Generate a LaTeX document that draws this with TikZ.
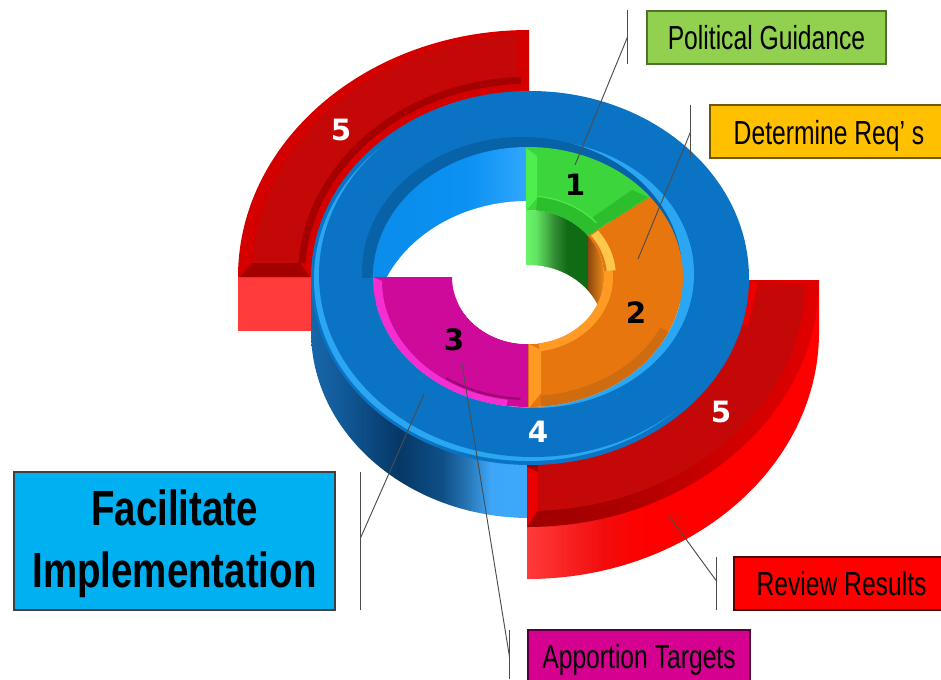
\documentclass[tikz,border=0pt]{standalone}
\usepackage{fontspec}
\setmainfont{Liberation Sans}
\newfontfamily\numfont{DejaVu Sans}
\definecolor{bluetop}{HTML}{0B73C4}
\definecolor{bluecy}{HTML}{2BA6F2}
\definecolor{bluedk}{HTML}{0862A8}
\definecolor{redface}{HTML}{C40808}
\definecolor{redbr}{HTML}{D40000}
\definecolor{reddk}{HTML}{A50000}
\definecolor{redside}{HTML}{FF3B3B}
\definecolor{grface}{HTML}{3CD63C}
\definecolor{grbev}{HTML}{2DBE2D}
\definecolor{grlit}{HTML}{4EEE4E}
\definecolor{orface}{HTML}{E8760F}
\definecolor{orlit}{HTML}{FF9A25}
\definecolor{ordk}{HTML}{CF6C10}
\definecolor{oryel}{HTML}{FFC84A}
\definecolor{mgface}{HTML}{CE0A9A}
\definecolor{mglit}{HTML}{F52ED2}
\definecolor{boxgreen}{HTML}{92D050}
\definecolor{boxorange}{HTML}{FFC000}
\definecolor{boxcyan}{HTML}{00B0F0}
\definecolor{boxmag}{HTML}{D5008F}
\pgfdeclarehorizontalshading{blueside}{100bp}{rgb(0bp)=(.09,.40,.66); rgb(25bp)=(.09,.40,.66); rgb(32bp)=(.07,.35,.60); rgb(45bp)=(.02,.22,.40); rgb(55bp)=(.06,.31,.53); rgb(61bp)=(.16,.47,.72); rgb(66bp)=(.24,.65,.97); rgb(75bp)=(.24,.66,.98); rgb(100bp)=(.24,.66,.98)}
\pgfdeclarehorizontalshading{redsidesh}{100bp}{rgb(0bp)=(1,.23,.23); rgb(25bp)=(1,.23,.23); rgb(38bp)=(.95,.05,.05); rgb(45bp)=(1,0,0); rgb(100bp)=(1,0,0)}
\pgfdeclarehorizontalshading{redband}{100bp}{rgb(0bp)=(.62,0,0); rgb(25bp)=(.62,0,0); rgb(42bp)=(.68,0,0); rgb(60bp)=(.82,0,0); rgb(75bp)=(.88,0,0); rgb(100bp)=(.88,0,0)}
\pgfdeclarehorizontalshading{bluewall}{100bp}{rgb(0bp)=(.04,.55,.92); rgb(25bp)=(.04,.55,.92); rgb(55bp)=(.04,.57,.95); rgb(75bp)=(.2,.66,1); rgb(100bp)=(.2,.66,1)}
\pgfdeclarehorizontalshading{greenwall}{100bp}{rgb(0bp)=(.42,.95,.42); rgb(25bp)=(.42,.95,.42); rgb(33bp)=(.38,.90,.38); rgb(48bp)=(.2,.55,.2); rgb(58bp)=(.06,.42,.08); rgb(100bp)=(.06,.42,.08)}
\pgfdeclarehorizontalshading{orangewall}{100bp}{rgb(0bp)=(.55,.28,.06); rgb(25bp)=(.55,.28,.06); rgb(50bp)=(.75,.42,.08); rgb(75bp)=(.96,.55,.1); rgb(100bp)=(.96,.55,.1)}
\newcommand{\EL}[4]{(#1,-#2) ellipse [x radius=#3*0.75pt, y radius=#4*0.75pt]}
\newcommand{\PT}[5]{({#1+#3*cos(#5)},{-#2+#4*sin(#5)})}
\newcommand{\ARC}[4]{arc[start angle=#1,end angle=#2,x radius=#3*0.75pt,y radius=#4*0.75pt]}
% centre x, centre y, outer rx, outer ry, inner rx, inner ry, t1, t2
\newcommand{\SEG}[8]{\PT{#1}{#2}{#3}{#4}{#7} \ARC{#7}{#8}{#3}{#4} -- \PT{#1}{#2}{#5}{#6}{#8} \ARC{#8}{#7}{#5}{#6} -- cycle}
\tikzset{
  lbl/.style={rectangle,inner sep=0pt,draw=#1,line width=0.9pt,text=black},
  lbl/.default=black!65!white,
  lead/.style={draw=black!70!white,line width=0.7pt},
  digit/.style={inner sep=0pt,font=\numfont\bfseries\fontsize{22}{24}\selectfont},
}
\newcommand{\lab}[1]{\scalebox{0.74}[1]{\fontsize{25}{28}\selectfont #1}}
\begin{document}
\begin{tikzpicture}[x=0.75pt,y=0.75pt]
\useasboundingbox (0,0) rectangle (941,-679);
\fill[white] (0,0) rectangle (941,-679);
% --- upper-left red arc
\fill[redside] (238,-277) rectangle (316,-330.5);
\fill[redbr] (529,-277) -- (238,-277) \ARC{180}{90}{291}{247} -- cycle;
\begin{scope}
  \clip (252,-263) rectangle (517,-30);
  \fill[redface] \EL{529}{277}{277}{242};
\end{scope}
\fill[reddk] (240,-277) -- (252,-263) -- (300,-263) -- (310,-277) -- cycle;
\fill[reddk] \SEG{529}{277}{231}{200}{224}{193}{92}{176};
\fill[redbr] \SEG{529}{277}{224}{193}{210}{170}{92}{176};
\draw[red!70!black,line width=0.6pt] \PT{529}{277}{231}{200}{92} \ARC{92}{176}{231}{200};
% --- blue side
\shade[shading=blueside] (311,-278) -- (311,-331) \ARC{180}{270}{219}{187} -- (530,-278) -- cycle;
% --- lower-right red arc
\shade[shading=redsidesh] (819,-280) -- (819,-332) \ARC{0}{-90}{292}{247} -- (527,-280) -- cycle;
\shade[shading=redband] (527,-280) -- (819,-280) \ARC{0}{-90}{292}{247} -- cycle;
\begin{scope}
  \clip (538,-285) rectangle (806,-510);
  \fill[redface] \EL{527}{282}{278}{229};
\end{scope}
\fill[red!92!black] (527,-467) -- (538,-472) -- (538,-510) -- (527,-527) -- cycle;
\fill[red!92!black] (749,-280) -- (758,-285) -- (748,-325) -- (740,-325) -- cycle;
% --- blue top face
\fill[bluetop] \EL{530}{278}{219}{187};
\fill[bluecy] \EL{528}{279}{214}{182};
\fill[bluetop] \EL{533}{275}{214}{182};
\fill[bluecy] \EL{534}{274}{160}{134};
\begin{scope}
  \clip (300,-100) rectangle (800,-277);
  \fill[bluedk] \EL{522}{272}{160}{135};
\end{scope}
% --- blue well
\begin{scope}
  \clip \EL{528}{277}{155}{130};
  \shade[shading=bluewall] (373,-140) rectangle (530,-290);
  \fill[white] \EL{528}{331}{155}{130};
\end{scope}
% --- ring segments
\fill[grface] \SEG{528}{277}{155}{130}{76}{67}{38}{90.8};
\fill[orface] \SEG{528}{277}{155}{130}{76}{67}{-90}{38};
\fill[mgface] \SEG{528}{277}{155}{130}{76}{67}{180}{270};
% --- inner well
\begin{scope}
  \clip \EL{528}{277}{76}{67};
  \shade[shading=greenwall] (526,-205) rectangle (588,-310);
  \shade[shading=orangewall] (588,-205) rectangle (605,-310);
  \fill[white] \EL{528}{332}{76}{67};
\end{scope}
% --- green bevels
\fill[grbev] (589,-235) -- (648,-197) -- (632,-190) -- (593,-217) -- cycle;
\fill[grbev] \SEG{528}{277}{92}{81}{76}{67}{38}{84};
\fill[grlit] (526,-148) -- (537,-156) -- (537,-198) -- (526,-211) -- cycle;
\draw[grlit,line width=0.8pt] \PT{528}{277}{92}{81}{42} \ARC{42}{84}{92}{81};
% --- orange bevels
\fill[orlit] \SEG{528}{277}{85}{75}{76}{67}{-82}{5};
\fill[oryel] \SEG{528}{277}{88}{77}{79}{69}{5}{37};
\fill[ordk] \SEG{528}{277}{155}{130}{146}{119}{-85}{-25};
\fill[orlit] (529,-344) -- (541,-350) -- (541,-393) -- (529,-408) -- cycle;
% --- magenta bevels
\fill[mglit] \PT{528}{277}{155}{130}{180} \ARC{180}{262}{155}{130} -- \PT{528}{277}{146}{124}{262} \ARC{262}{180}{146}{120} -- cycle;
\draw[mgface!75!black,line width=1.6pt] \PT{528}{277}{146}{122}{236} \ARC{236}{267}{146}{122};
% --- digits
\node[digit,text=white] (d5a) at (341,-130) {5};
\node[digit,text=white] (d5b) at (721,-412) {5};
\node[digit,text=white] (d4) at (538,-432) {4};
\node[digit,text=black] (d1) at (575,-185) {1};
\node[digit,text=black] (d2) at (636,-313) {2};
\node[digit,text=black] (d3) at (454,-340) {3};
% --- labels
\node[lbl=boxgreen!55!black,fill=boxgreen,minimum width=179.25pt,minimum height=39.75pt] (pg) at (766.5,-37.5) {\lab{Political Guidance}};
\node[lbl=boxorange!45!black,fill=boxorange,minimum width=178.5pt,minimum height=39.75pt] (dr) at (829,-131.5) {\raisebox{-3.5pt}[\height][\depth]{\lab{Determine Req’ s}}};
\node[lbl=red!35!black,fill=red,minimum width=161.25pt,minimum height=39.75pt] (rr) at (841.5,-583.5) {\lab{Review Results}};
\node[lbl=boxmag!40!black,fill=boxmag,minimum width=166.5pt,minimum height=39.75pt] (at) at (639,-656.5) {\raisebox{-2.5pt}[\height][\depth]{\lab{Apportion Targets}}};
\node[lbl=black!75!white,fill=boxcyan,minimum width=240.75pt,minimum height=103.5pt,align=center,font=\bfseries] (fi) at (174.5,-541) {\raisebox{-2.5pt}[\height][\depth]{\scalebox{0.78}[1]{\fontsize{37}{45}\selectfont\begin{tabular}{@{}c@{}}Facilitate\\[1pt]Implementation\end{tabular}}}};
% --- leaders
\coordinate (b1t) at (627.5,-10); \coordinate (b1b) at (627.5,-64); \coordinate (b1m) at (627.5,-37); \coordinate (e1) at (575,-165);
\coordinate (b2t) at (690.5,-105); \coordinate (b2b) at (690.5,-158); \coordinate (b2m) at (690.5,-132); \coordinate (e2) at (638,-259);
\coordinate (b3t) at (716.5,-557); \coordinate (b3b) at (716.5,-610); \coordinate (b3m) at (716.5,-581); \coordinate (e3) at (669,-516);
\coordinate (b4t) at (509.5,-630); \coordinate (b4b) at (509.5,-679); \coordinate (b4m) at (509.5,-657); \coordinate (e4) at (462,-364);
\coordinate (b5t) at (360.5,-472); \coordinate (b5b) at (360.5,-610); \coordinate (b5m) at (360.5,-538); \coordinate (e5) at (424,-394);
\foreach \a/\b/\m/\e in {b1t/b1b/b1m/e1,b2t/b2b/b2m/e2,b3t/b3b/b3m/e3,b4t/b4b/b4m/e4,b5t/b5b/b5m/e5}{
  \draw[lead] (\a) -- (\b);
  \draw[lead] (\m) -- (\e);
}
\end{tikzpicture}
\end{document}
